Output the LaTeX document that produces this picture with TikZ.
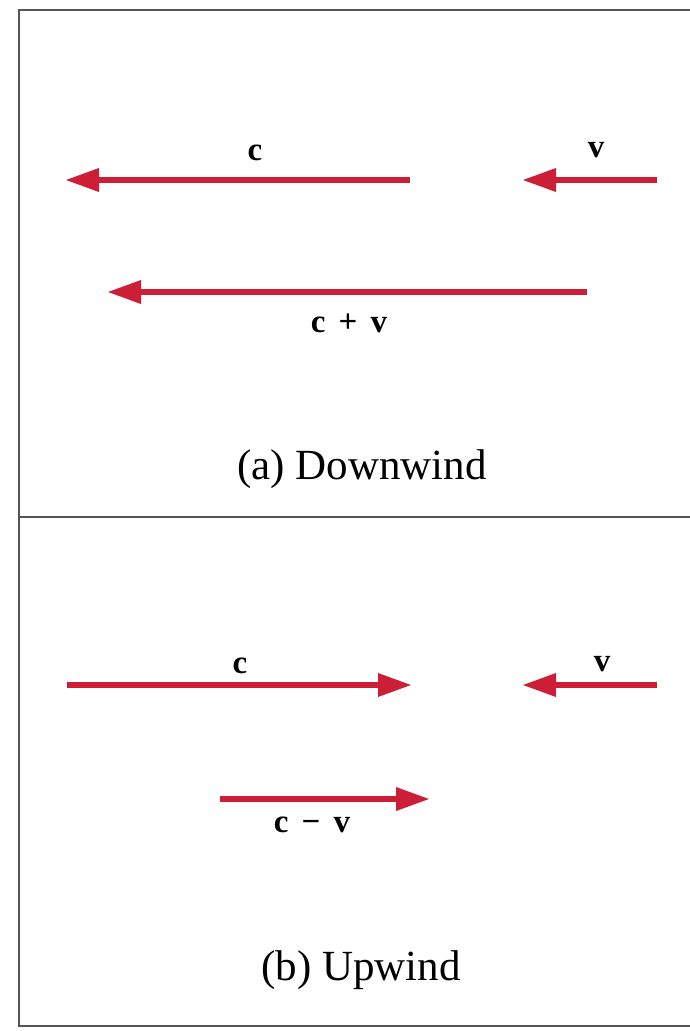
\documentclass[tikz,border=0pt]{standalone}
\usepackage{fontspec}
\setmainfont{Liberation Serif}
\usetikzlibrary{arrows.meta}
\definecolor{arrowred}{RGB}{205,30,55}
\definecolor{framegray}{RGB}{85,85,85}
\tikzset{
  vecarrow/.style={draw=arrowred, line width=6.5pt, -{Triangle[length=34pt,width=22pt,fill=arrowred]}},
  veclabel/.style={font=\fontsize{33}{36}\selectfont\bfseries, inner sep=0pt, anchor=base},
  caption/.style={font=\fontsize{43}{46}\selectfont, inner sep=0pt, anchor=base},
  framepen/.style={draw=framegray, line width=2.6pt}
}
\begin{document}
\begin{tikzpicture}[x=1pt,y=-1pt]
\useasboundingbox[fill=white] (0,0) rectangle (690,1031);
% frame
\coordinate (tl) at (19,10);
\coordinate (tr) at (690,10);
\coordinate (ml) at (19,517);
\coordinate (mr) at (690,517);
\coordinate (bl) at (19,1026);
\coordinate (br) at (690,1026);
\draw[framepen] (tr) -- (tl) -- (bl) -- (br);
\draw[framepen] (ml) -- (mr);
% (a) Downwind
\coordinate (ca1) at (410,180);
\coordinate (ca2) at (65,180);
\coordinate (va1) at (657,180);
\coordinate (va2) at (522,180);
\coordinate (sa1) at (587,292);
\coordinate (sa2) at (107,292);
\draw[vecarrow] (ca1) -- (ca2);
\draw[vecarrow] (va1) -- (va2);
\draw[vecarrow] (sa1) -- (sa2);
\node[veclabel] (lca) at (255,160) {c};
\node[veclabel] (lva) at (596,157) {v};
\node[veclabel] (lsa) at (349,332) {c\hspace{0.4em}+\hspace{0.4em}v};
\node[caption] (capa) at (362,479) {(a) Downwind};
% (b) Upwind
\coordinate (cb1) at (67,685);
\coordinate (cb2) at (412,685);
\coordinate (vb1) at (657,685);
\coordinate (vb2) at (522,685);
\coordinate (db1) at (220,799);
\coordinate (db2) at (430,799);
\draw[vecarrow] (cb1) -- (cb2);
\draw[vecarrow] (vb1) -- (vb2);
\draw[vecarrow] (db1) -- (db2);
\node[veclabel] (lcb) at (240,673) {c};
\node[veclabel] (lvb) at (602,671) {v};
\node[veclabel] (ldb) at (312,832) {c\hspace{0.4em}−\hspace{0.4em}v};
\node[caption] (capb) at (361,980) {(b) Upwind};
\end{tikzpicture}
\end{document}
